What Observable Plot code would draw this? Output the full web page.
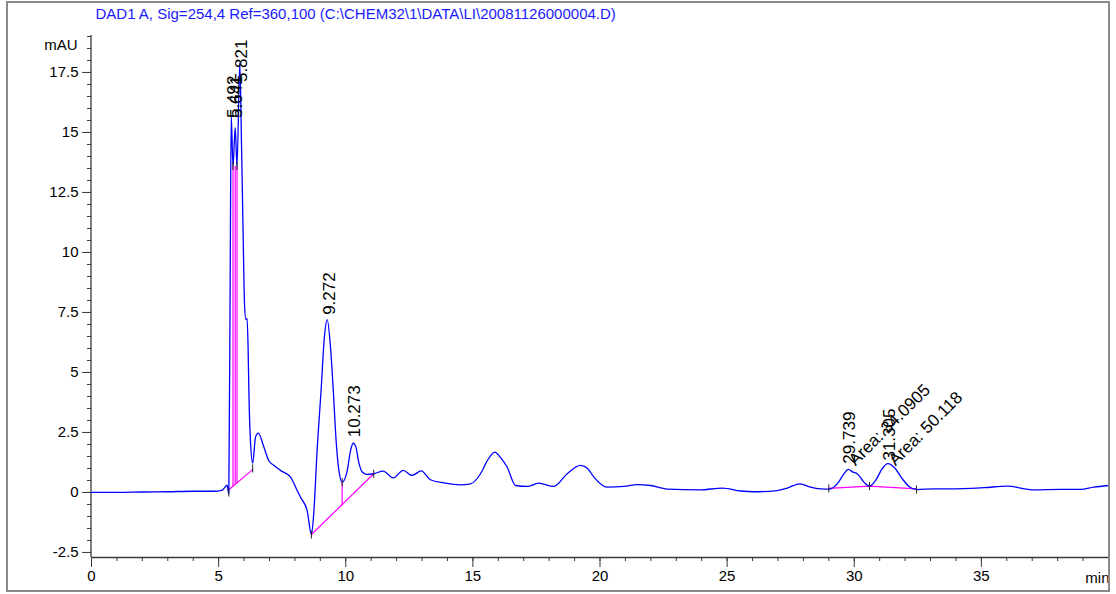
<!DOCTYPE html>
<html>
<head>
<meta charset="utf-8">
<script src="https://cdn.jsdelivr.net/npm/d3@7"></script>
<script src="https://cdn.jsdelivr.net/npm/@observablehq/plot@0.6"></script>
<style>
  html, body { margin: 0; padding: 0; background: #fff; }
  #chart { position: relative; width: 1116px; height: 594px; }
</style>
</head>
<body>
<div id="chart"></div>
<script>
// ---- Data ----
const title = "DAD1 A, Sig=254,4 Ref=360,100 (C:\\CHEM32\\1\\DATA\\LI\\20081126000004.D)";
const yUnit = "mAU";
const xUnit = "min";

// signal trace: retention time (min) and absorbance (mAU)
const times = [0, 1, 2, 3, 4, 4.8, 5.15, 5.33, 5.40, 5.455, 5.495, 5.565, 5.652, 5.723, 5.833, 5.90, 5.96, 6.02, 6.07, 6.12, 6.16, 6.19, 6.25, 6.34, 6.45, 6.56, 6.78, 6.97, 7.17, 7.43, 7.83, 8.09, 8.22, 8.48, 8.65, 8.74, 8.88, 9.03, 9.16, 9.27, 9.40, 9.51, 9.62, 9.73, 9.86, 10.06, 10.19, 10.29, 10.40, 10.51, 10.65, 10.84, 11.10, 11.47, 11.87, 12.26, 12.61, 12.97, 13.33, 13.86, 14.51, 14.91, 15.30, 15.58, 15.86, 16.09, 16.35, 16.68, 17.14, 17.59, 18.18, 18.71, 19.23, 19.51, 19.76, 20.28, 20.94, 21.46, 21.99, 22.64, 23.95, 24.81, 25.53, 26.05, 26.97, 27.36, 27.86, 28.28, 28.67, 29.0, 29.33, 29.58, 29.76, 29.95, 30.12, 30.38, 30.60, 30.84, 31.10, 31.32, 31.62, 31.89, 32.15, 32.45, 33.13, 33.79, 35.10, 36.02, 37.06, 38.11, 38.90, 39.42, 40.0];
const mAU = [0, 0, 0.02, 0.03, 0.05, 0.05, 0.1, 0.3, -0.05, 9, 15.7, 13.6, 15.2, 13.6, 17.9, 14.5, 11, 7.8, 7.2, 7.25, 6.0, 4.2, 2.2, 1.22, 2.3, 2.47, 1.89, 1.33, 1.13, 0.92, 0.64, 0.08, -0.2, -0.75, -1.75, -0.89, 1.89, 4.25, 6.47, 7.2, 6.05, 4.25, 2.17, 0.92, 0.43, 0.92, 1.75, 2.05, 1.89, 1.26, 0.85, 0.75, 0.78, 0.89, 0.61, 0.92, 0.71, 0.9, 0.53, 0.4, 0.32, 0.36, 0.78, 1.35, 1.68, 1.45, 1.05, 0.29, 0.25, 0.39, 0.25, 0.78, 1.125, 1.0, 0.64, 0.22, 0.25, 0.33, 0.29, 0.14, 0.11, 0.18, 0.06, 0.03, 0.08, 0.18, 0.36, 0.22, 0.15, 0.14, 0.36, 0.75, 0.96, 0.85, 0.78, 0.43, 0.26, 0.5, 0.99, 1.2, 0.99, 0.57, 0.25, 0.12, 0.15, 0.15, 0.2, 0.26, 0.11, 0.125, 0.125, 0.22, 0.29];

// peak labels: retention time, where the label starts (mAU)
const peakRT = ["5.492", "5.641", "5.821", "9.272", "10.273", "29.739", "31.305"];
const peakLabelAt = [15.6, 15.6, 17.1, 7.4, 2.3, 1.2, 1.33];

// area annotations
const areaRT = [29.739, 31.305];
const areaText = ["Area: 34.0905", "Area: 50.118"];
const areaLabelAt = [1.08, 1.08];

// integration baselines (group, time, mAU)
const baseGroup = ["a", "a", "b", "b", "c", "c", "c"];
const baseT = [5.40, 6.34, 8.65, 11.10, 29.0, 30.60, 32.45];
const baseV = [0.11, 0.95, -1.75, 0.78, 0.17, 0.26, 0.15];

// drop lines (time, baseline mAU, signal mAU)
const dropT = [5.565, 5.652, 5.723, 9.86, 30.60];
const dropFrom = [0.25, 0.33, 0.39, -0.55, 0.26];
const dropTo = [13.6, 13.6, 13.6, 0.43, 0.26];

// integration event marks (time, mAU)
const eventT = [5.40, 5.565, 5.723, 6.34, 8.65, 9.86, 11.10, 29.0, 30.60, 32.45];
const eventV = [0.0, 13.6, 13.6, 1.0, -1.75, 0.43, 0.78, 0.17, 0.26, 0.12];

// axes
const yTicks = [-2.5, 0, 2.5, 5, 7.5, 10, 12.5, 15, 17.5];
const yMinor = d3.range(-2.5, 19.01, 0.5);
const xTicks = [0, 5, 10, 15, 20, 25, 30, 35];
const xMinor = d3.range(0, 40, 1);

// ---- Build tables ----
const signal = times.map((t, i) => ({t, v: mAU[i]}));
const peaks = peakRT.map((rt, i) => ({rt: +rt, label: rt, at: peakLabelAt[i]}));
const areas = areaRT.map((rt, i) => ({rt, text: areaText[i], at: areaLabelAt[i]}));
const baselines = baseT.map((t, i) => ({g: baseGroup[i], t, v: baseV[i]}));
const drops = dropT.map((t, i) => ({t, y1: dropFrom[i], y2: dropTo[i]}));
const events = eventT.map((t, i) => ({t, v: eventV[i]}));

const FONT = "'Liberation Sans', Arial, sans-serif";
const axisColor = "#3a3a3a";

const chart = Plot.plot({
  width: 1116,
  height: 594,
  marginLeft: 91,
  marginRight: 8,
  marginTop: 35,
  marginBottom: 37,
  style: {fontFamily: FONT, fontSize: "15px", background: "#fff", color: "#000", overflow: "visible"},
  x: {domain: [0, 40], label: null},
  y: {domain: [-2.71, 19.04], label: null},
  marks: [
    // axis lines
    Plot.ruleX([0], {stroke: axisColor, strokeWidth: 1.3, dx: -0.5}),
    Plot.ruleY([-2.71], {stroke: axisColor, strokeWidth: 1.3}),
    // y axis ticks
    Plot.axisY({ticks: yMinor, tickSize: 4, tickFormat: () => "", stroke: axisColor}),
    Plot.axisY({ticks: yTicks, tickSize: 9, tickPadding: 4, tickFormat: d => String(d), stroke: axisColor, fontSize: 15, fill: "#000"}),
    // x axis ticks
    Plot.axisX({ticks: xMinor, tickSize: 4, tickFormat: () => "", stroke: axisColor}),
    Plot.axisX({ticks: xTicks, tickSize: 10, tickPadding: 3, tickFormat: d => String(d), stroke: axisColor, fontSize: 15, fill: "#000"}),
    // integration baselines and drop lines
    Plot.line(baselines, {x: "t", y: "v", z: "g", stroke: "#ff00ff", strokeWidth: 1.2}),
    Plot.link(drops, {x1: "t", x2: "t", y1: "y1", y2: "y2", stroke: "#ff00ff", strokeWidth: 1.2}),
    // signal
    Plot.line(signal, {x: "t", y: "v", curve: "monotone-x", stroke: "#0000ff", strokeWidth: 1.3}),
    // event marks
    Plot.link(events, {x1: "t", x2: "t", y1: d => d.v - 0.17, y2: d => d.v + 0.17, stroke: "#222", strokeWidth: 1}),
    // peak labels
    Plot.text(peaks, {x: "rt", y: "at", text: "label", rotate: -90, textAnchor: "start", lineAnchor: "middle", dx: 2, fontSize: 17, fill: "#000"}),
    Plot.text(areas, {x: "rt", y: "at", text: "text", rotate: -45, textAnchor: "start", lineAnchor: "bottom", dx: 8, fontSize: 17, fill: "#000"}),
    // title and units
    Plot.text([title], {frameAnchor: "top-left", text: d => d, textAnchor: "start", lineAnchor: "middle", dx: 4, dy: -21, fill: "#1a1aff", fontSize: 15}),
    Plot.text([yUnit], {frameAnchor: "top-left", text: d => d, textAnchor: "end", lineAnchor: "middle", dx: -14, dy: 10, fill: "#000", fontSize: 15}),
    Plot.text([xUnit], {frameAnchor: "bottom-right", text: d => d, textAnchor: "end", lineAnchor: "middle", dx: 1, dy: 21, fill: "#000", fontSize: 15})
  ]
});

// decorative outer border of the printout
d3.select(chart).append("rect")
  .attr("x", 7).attr("y", 2).attr("width", 1102).attr("height", 589)
  .attr("fill", "none").attr("stroke", "#8a8a8a").attr("stroke-width", 2);

document.getElementById("chart").appendChild(chart);
</script>
</body>
</html>
